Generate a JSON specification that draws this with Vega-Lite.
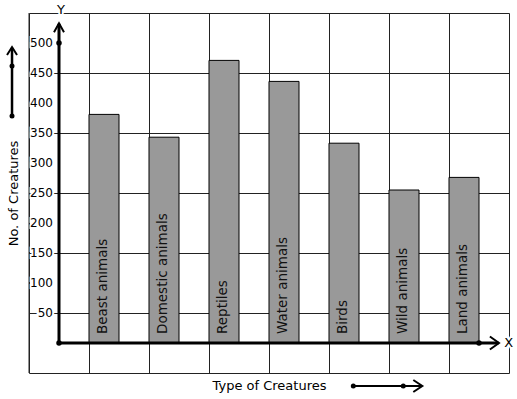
{
  "$schema": "https://vega.github.io/schema/vega-lite/v6.json",
  "width": 480,
  "height": 360,
  "autosize": {"type": "none"},
  "padding": {"left": 29, "top": 13, "right": 8, "bottom": 26},
  "background": "white",
  "config": {
    "view": {"stroke": null},
    "font": "DejaVu Sans",
    "axis": {
      "gridColor": "#222", "gridOpacity": 1, "gridWidth": 1,
      "labels": false, "ticks": false, "domain": false,
      "titleFont": "DejaVu Sans", "titleFontSize": 13, "titleFontWeight": "normal", "titleColor": "#000"
    }
  },
  "data": {"values": [{}]},
  "datasets": {
    "creatures": [
      {"idx": 1, "name": "Beast animals", "count": 381},
      {"idx": 2, "name": "Domestic animals", "count": 343},
      {"idx": 3, "name": "Reptiles", "count": 471},
      {"idx": 4, "name": "Water animals", "count": 436},
      {"idx": 5, "name": "Birds", "count": 333},
      {"idx": 6, "name": "Wild animals", "count": 255},
      {"idx": 7, "name": "Land animals", "count": 276}
    ],
    "ticks": [{"v": 50}, {"v": 100}, {"v": 150}, {"v": 200}, {"v": 250}, {"v": 300}, {"v": 350}, {"v": 400}, {"v": 450}, {"v": 500}]
  },
  "layer": [
    {
      "data": {"name": "creatures"},
      "mark": {"type": "bar", "size": 30, "fill": "#999999", "stroke": "#000", "strokeWidth": 1},
      "encoding": {
        "x": {"field": "idx", "type": "quantitative",
          "scale": {"domain": [-0.25, 7.75], "nice": false, "zero": false, "padding": 0},
          "axis": {"values": [-0.25, 0.25, 0.75, 1.25, 1.75, 2.25, 2.75, 3.25, 3.75, 4.25, 4.75, 5.25, 5.75, 6.25, 6.75, 7.25, 7.75],
            "title": "Type of Creatures", "titlePadding": 6}},
        "y": {"field": "count", "type": "quantitative",
          "scale": {"domain": [-50, 550], "nice": false, "zero": false, "padding": 0},
          "axis": {"values": [-50, 0, 50, 100, 150, 200, 250, 300, 350, 400, 450, 500, 550],
            "title": "No. of Creatures", "titlePadding": 9}},
        "y2": {"datum": 0}
      }
    },
    {
      "data": {"name": "creatures"},
      "mark": {"type": "text", "angle": 270, "align": "left", "baseline": "middle", "dx": 9, "dy": -1, "fontSize": 13.5, "fill": "#111"},
      "encoding": {
        "x": {"field": "idx", "type": "quantitative"},
        "y": {"datum": 0},
        "text": {"field": "name", "type": "nominal"}
      }
    },
    {
      "data": {"name": "ticks"},
      "mark": {"type": "text", "align": "right", "baseline": "middle", "dx": -6, "fontSize": 12, "fill": "white", "stroke": "white", "strokeWidth": 4},
      "encoding": {
        "x": {"datum": 0.25},
        "y": {"field": "v", "type": "quantitative"},
        "text": {"field": "v", "type": "quantitative"}
      }
    },
    {
      "data": {"name": "ticks"},
      "mark": {"type": "text", "align": "right", "baseline": "middle", "dx": -6, "fontSize": 12, "fill": "#000"},
      "encoding": {
        "x": {"datum": 0.25},
        "y": {"field": "v", "type": "quantitative"},
        "text": {"field": "v", "type": "quantitative"}
      }
    },
    {
      "mark": {"type": "rule", "color": "#222", "strokeWidth": 1},
      "encoding": {"x": {"datum": -0.25}}
    },
    {
      "mark": {"type": "rule", "color": "#000", "strokeWidth": 3},
      "encoding": {"x": {"datum": 0.25}, "y": {"datum": 0}, "y2": {"datum": 532}}
    },
    {
      "mark": {"type": "rule", "color": "#000", "strokeWidth": 3},
      "encoding": {"y": {"datum": 0}, "x": {"datum": 0.25}, "x2": {"datum": 7.575}}
    },
    {
      "mark": {"type": "point", "shape": "M-1,1.8L0,0L1,1.8", "size": 100, "filled": false, "stroke": "#000", "strokeWidth": 2, "opacity": 1},
      "encoding": {"x": {"datum": 0.25}, "y": {"datum": 533}}
    },
    {
      "mark": {"type": "point", "shape": "M-1.4,-1L0,0L-1.4,1", "size": 169, "filled": false, "stroke": "#000", "strokeWidth": 2, "opacity": 1},
      "encoding": {"x": {"datum": 7.583}, "y": {"datum": 0}}
    },
    {
      "mark": {"type": "point", "shape": "circle", "size": 30, "filled": true, "color": "#000", "opacity": 1},
      "encoding": {"x": {"datum": 0.25}, "y": {"datum": 500}}
    },
    {
      "mark": {"type": "point", "shape": "circle", "size": 30, "filled": true, "color": "#000", "opacity": 1},
      "encoding": {"x": {"datum": 0.25}, "y": {"datum": 0}}
    },
    {
      "mark": {"type": "point", "shape": "circle", "size": 30, "filled": true, "color": "#000", "opacity": 1},
      "encoding": {"x": {"datum": 7.25}, "y": {"datum": 0}}
    },
    {
      "mark": {"type": "text", "text": "Y", "align": "center", "baseline": "alphabetic", "fontSize": 13, "fill": "white", "stroke": "white", "strokeWidth": 4},
      "encoding": {"x": {"datum": 0.283}, "y": {"datum": 549}}
    },
    {
      "mark": {"type": "text", "text": "Y", "align": "center", "baseline": "alphabetic", "fontSize": 13, "fill": "#000"},
      "encoding": {"x": {"datum": 0.283}, "y": {"datum": 549}}
    },
    {
      "mark": {"type": "text", "text": "X", "align": "center", "baseline": "middle", "fontSize": 13, "fill": "white", "stroke": "white", "strokeWidth": 4},
      "encoding": {"x": {"datum": 7.745}, "y": {"datum": 0}}
    },
    {
      "mark": {"type": "text", "text": "X", "align": "center", "baseline": "middle", "fontSize": 13, "fill": "#000"},
      "encoding": {"x": {"datum": 7.745}, "y": {"datum": 0}}
    },
    {
      "mark": {"type": "rule", "color": "#000", "strokeWidth": 2.5},
      "encoding": {"x": {"datum": -0.533}, "y": {"datum": 378.3}, "y2": {"datum": 492}}
    },
    {
      "mark": {"type": "point", "shape": "M-1,1.6L0,0L1,1.6", "size": 100, "filled": false, "stroke": "#000", "strokeWidth": 2, "opacity": 1},
      "encoding": {"x": {"datum": -0.533}, "y": {"datum": 493.3}}
    },
    {
      "mark": {"type": "point", "shape": "circle", "size": 25, "filled": true, "color": "#000", "opacity": 1},
      "encoding": {"x": {"datum": -0.533}, "y": {"datum": 378.3}}
    },
    {
      "mark": {"type": "point", "shape": "circle", "size": 25, "filled": true, "color": "#000", "opacity": 1},
      "encoding": {"x": {"datum": -0.533}, "y": {"datum": 461.7}}
    },
    {
      "mark": {"type": "rule", "color": "#000", "strokeWidth": 2},
      "encoding": {"y": {"datum": -71.7}, "x": {"datum": 5.155}, "x2": {"datum": 6.29}}
    },
    {
      "mark": {"type": "point", "shape": "M-1.5,-1L0,0L-1.5,1", "size": 144, "filled": false, "stroke": "#000", "strokeWidth": 2, "opacity": 1},
      "encoding": {"x": {"datum": 6.305}, "y": {"datum": -71.7}}
    },
    {
      "mark": {"type": "point", "shape": "circle", "size": 25, "filled": true, "color": "#000", "opacity": 1},
      "encoding": {"x": {"datum": 5.155}, "y": {"datum": -71.7}}
    },
    {
      "mark": {"type": "point", "shape": "circle", "size": 25, "filled": true, "color": "#000", "opacity": 1},
      "encoding": {"x": {"datum": 5.988}, "y": {"datum": -71.7}}
    }
  ]
}
